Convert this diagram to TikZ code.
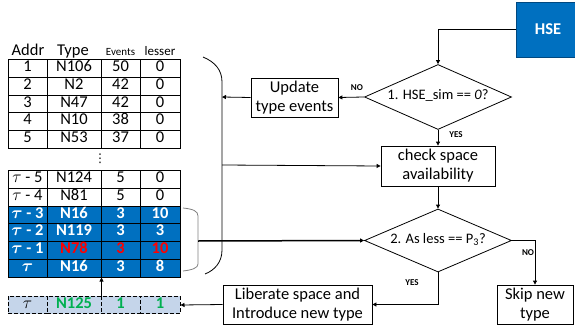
\documentclass[tikz,border=0pt]{standalone}
\usepackage{fontspec}
\setmainfont{Carlito}
\newfontfamily\symfont{DejaVu Sans}
\usetikzlibrary{shapes.geometric,arrows.meta}

\definecolor{cellblue}{RGB}{0,112,192}
\definecolor{hsedark}{RGB}{0,72,128}
\definecolor{newrow}{RGB}{197,213,234}
\definecolor{newgreen}{RGB}{0,176,80}
\newcommand{\cellfont}{\fontsize{16.5}{19}\selectfont}
\newcommand{\testfont}{\fontsize{14.5}{17}\selectfont}
\newcommand{\tagfont}{\fontsize{9}{10}\selectfont\bfseries}

\tikzset{
	cell/.style={draw,rectangle,line width=1pt,inner sep=0pt,minimum height=17.7pt,text height=0.63em,text depth=0pt,font=\cellfont},
	wcell/.style={cell,fill=white},
	bcell/.style={cell,fill=cellblue,text=white,font=\cellfont\bfseries\boldmath},
	rcell/.style={bcell,text=red},
	ncell/.style={cell,dash pattern=on 4pt off 2pt,fill=newrow,text=newgreen,font=\cellfont\bfseries},
	box/.style={draw,rectangle,align=center,inner sep=0pt,font=\cellfont},
	test/.style={draw,diamond,aspect=2.26,inner sep=0pt,text height=0.6em,text depth=0.1em,font=\testfont},
	tag/.style={font=\tagfont},
	arr/.style={-{Triangle[length=4pt,width=4pt]}}
}

\begin{document}
\begin{tikzpicture}[x=1pt,y=-1pt,line width=0.8pt]
	\useasboundingbox (0,0) rectangle (575,329);
	% table head
	\node[anchor=base,inner sep=0pt,font=\fontsize{16.5}{19}\selectfont] (hAddr) at (28,55.5) {Addr};
	\node[anchor=base,inner sep=0pt,font=\fontsize{16.5}{19}\selectfont] (hType) at (73,55.5) {Type};
	\node[anchor=base,inner sep=0pt,font=\fontsize{11}{13}\selectfont] (hEvents) at (120.5,55.5) {Events};
	\node[anchor=base,inner sep=0pt,font=\fontsize{13}{15}\selectfont] (hLesser) at (160,55.5) {lesser};
	% first rows
	\foreach \y/\a/\b/\c/\d [count=\i] in {68.8/1/N106/50/0, 86.4/2/N2/42/0, 104/3/N47/42/0, 121.6/4/N10/38/0, 139.2/5/N53/37/0}{
		\node[wcell,minimum width=39pt] (a\i) at (27.5,\y) {\a};
		\node[wcell,minimum width=54pt] (b\i) at (74,\y) {\b};
		\node[wcell,minimum width=39pt] (c\i) at (120.5,\y) {\c};
		\node[wcell,minimum width=40pt] (d\i) at (160,\y) {\d};
	}
	\node[inner sep=0pt,font=\fontsize{12}{14}\symfont] (dots) at (100,159) {⋮};
	% last rows
	\foreach \y/\a/\b/\c/\d/\s/\q [count=\i from 6] in {179.8/{$\tau$ - 5}/N124/5/0/wcell/wcell, 197.5/{$\tau$ - 4}/N81/5/0/wcell/wcell, 215.2/{$\tau$ - 3}/N16/3/10/bcell/bcell, 232.8/{$\tau$ - 2}/N119/3/3/bcell/bcell, 250.5/{$\tau$ - 1}/N78/3/10/bcell/rcell, 268.2/{$\tau$}/N16/3/8/bcell/bcell}{
		\node[\s,minimum width=39pt] (a\i) at (27.5,\y) {\a};
		\node[\q,minimum width=54pt] (b\i) at (74,\y) {\b};
		\node[\q,minimum width=39pt] (c\i) at (120.5,\y) {\c};
		\node[\q,minimum width=40pt] (d\i) at (160,\y) {\d};
	}
	% new type
	\node[ncell,minimum width=39pt,text=black,font=\cellfont] (e1) at (27.5,305) {$\tau$};
	\node[ncell,minimum width=54pt] (e2) at (74,305) {N125};
	\node[ncell,minimum width=39pt] (e3) at (120.5,305) {1};
	\node[ncell,minimum width=40pt] (e4) at (160,305) {1};
	\draw[arr] (e2.north east) -- (b11.south east);
	% brackets
	\draw (203,57) .. controls (215,62) and (222,70) .. (222,82) -- (222,250) .. controls (222,262) and (215,270) .. (205,274);
	\coordinate (pu) at (222,97);
	\coordinate (pc) at (222,165);
	\draw[gray] (183,208) .. controls (193,209) and (198,211) .. (198,216) -- (198,264) .. controls (198,268) and (192,270) .. (183,271);
	\coordinate (bm) at (198,241);
	% flow
	\node[box,fill=cellblue,draw=hsedark,text=white,font=\cellfont\bfseries,minimum width=64pt,minimum height=55pt] (hse) at (548,29.5) {HSE};
	\node[test,minimum width=147pt,minimum height=65pt] (q1) at (438,97) {1. HSE\_sim == \textit{0}?};
	\node[box,minimum width=87pt,minimum height=39pt] (upd) at (294.5,97.5) {Update\\type events};
	\node[box,minimum width=114pt,minimum height=40pt] (chk) at (438,166) {check space\\availability};
	\node[test,minimum width=147pt,minimum height=63pt] (q2) at (438,240.5) {2. As less == P\textsubscript{3}?};
	\node[box,minimum width=149pt,minimum height=39pt] (lib) at (297.5,304.5) {Liberate space and\\Introduce new type};
	\node[box,minimum width=76pt,minimum height=39pt] (skip) at (535,304.5) {Skip new\\type};
	\draw[arr] (hse.west) -| (q1.north);
	\draw[arr] (q1.west) -- (upd.east);
	\node[tag] (no1) at (357,88) {NO};
	\draw[arr] (upd.west) -- (pu);
	\draw[arr] (q1.south) -- (chk.north);
	\node[tag] (yes1) at (456,135) {YES};
	\draw[arr] (pc) -- (chk.west);
	\draw[arr] (chk.south) -- (q2.north);
	\draw[arr,line width=1.5pt] (bm) -- (q2.west);
	\draw[arr] (q2.east) -| (skip.north);
	\node[tag] (no2) at (528,253) {NO};
	\draw[arr] (q2.south) |- (lib.east);
	\node[tag] (yes2) at (412,283) {YES};
	\draw[arr] (lib.west) -- (e4.east);
\end{tikzpicture}
\end{document}
